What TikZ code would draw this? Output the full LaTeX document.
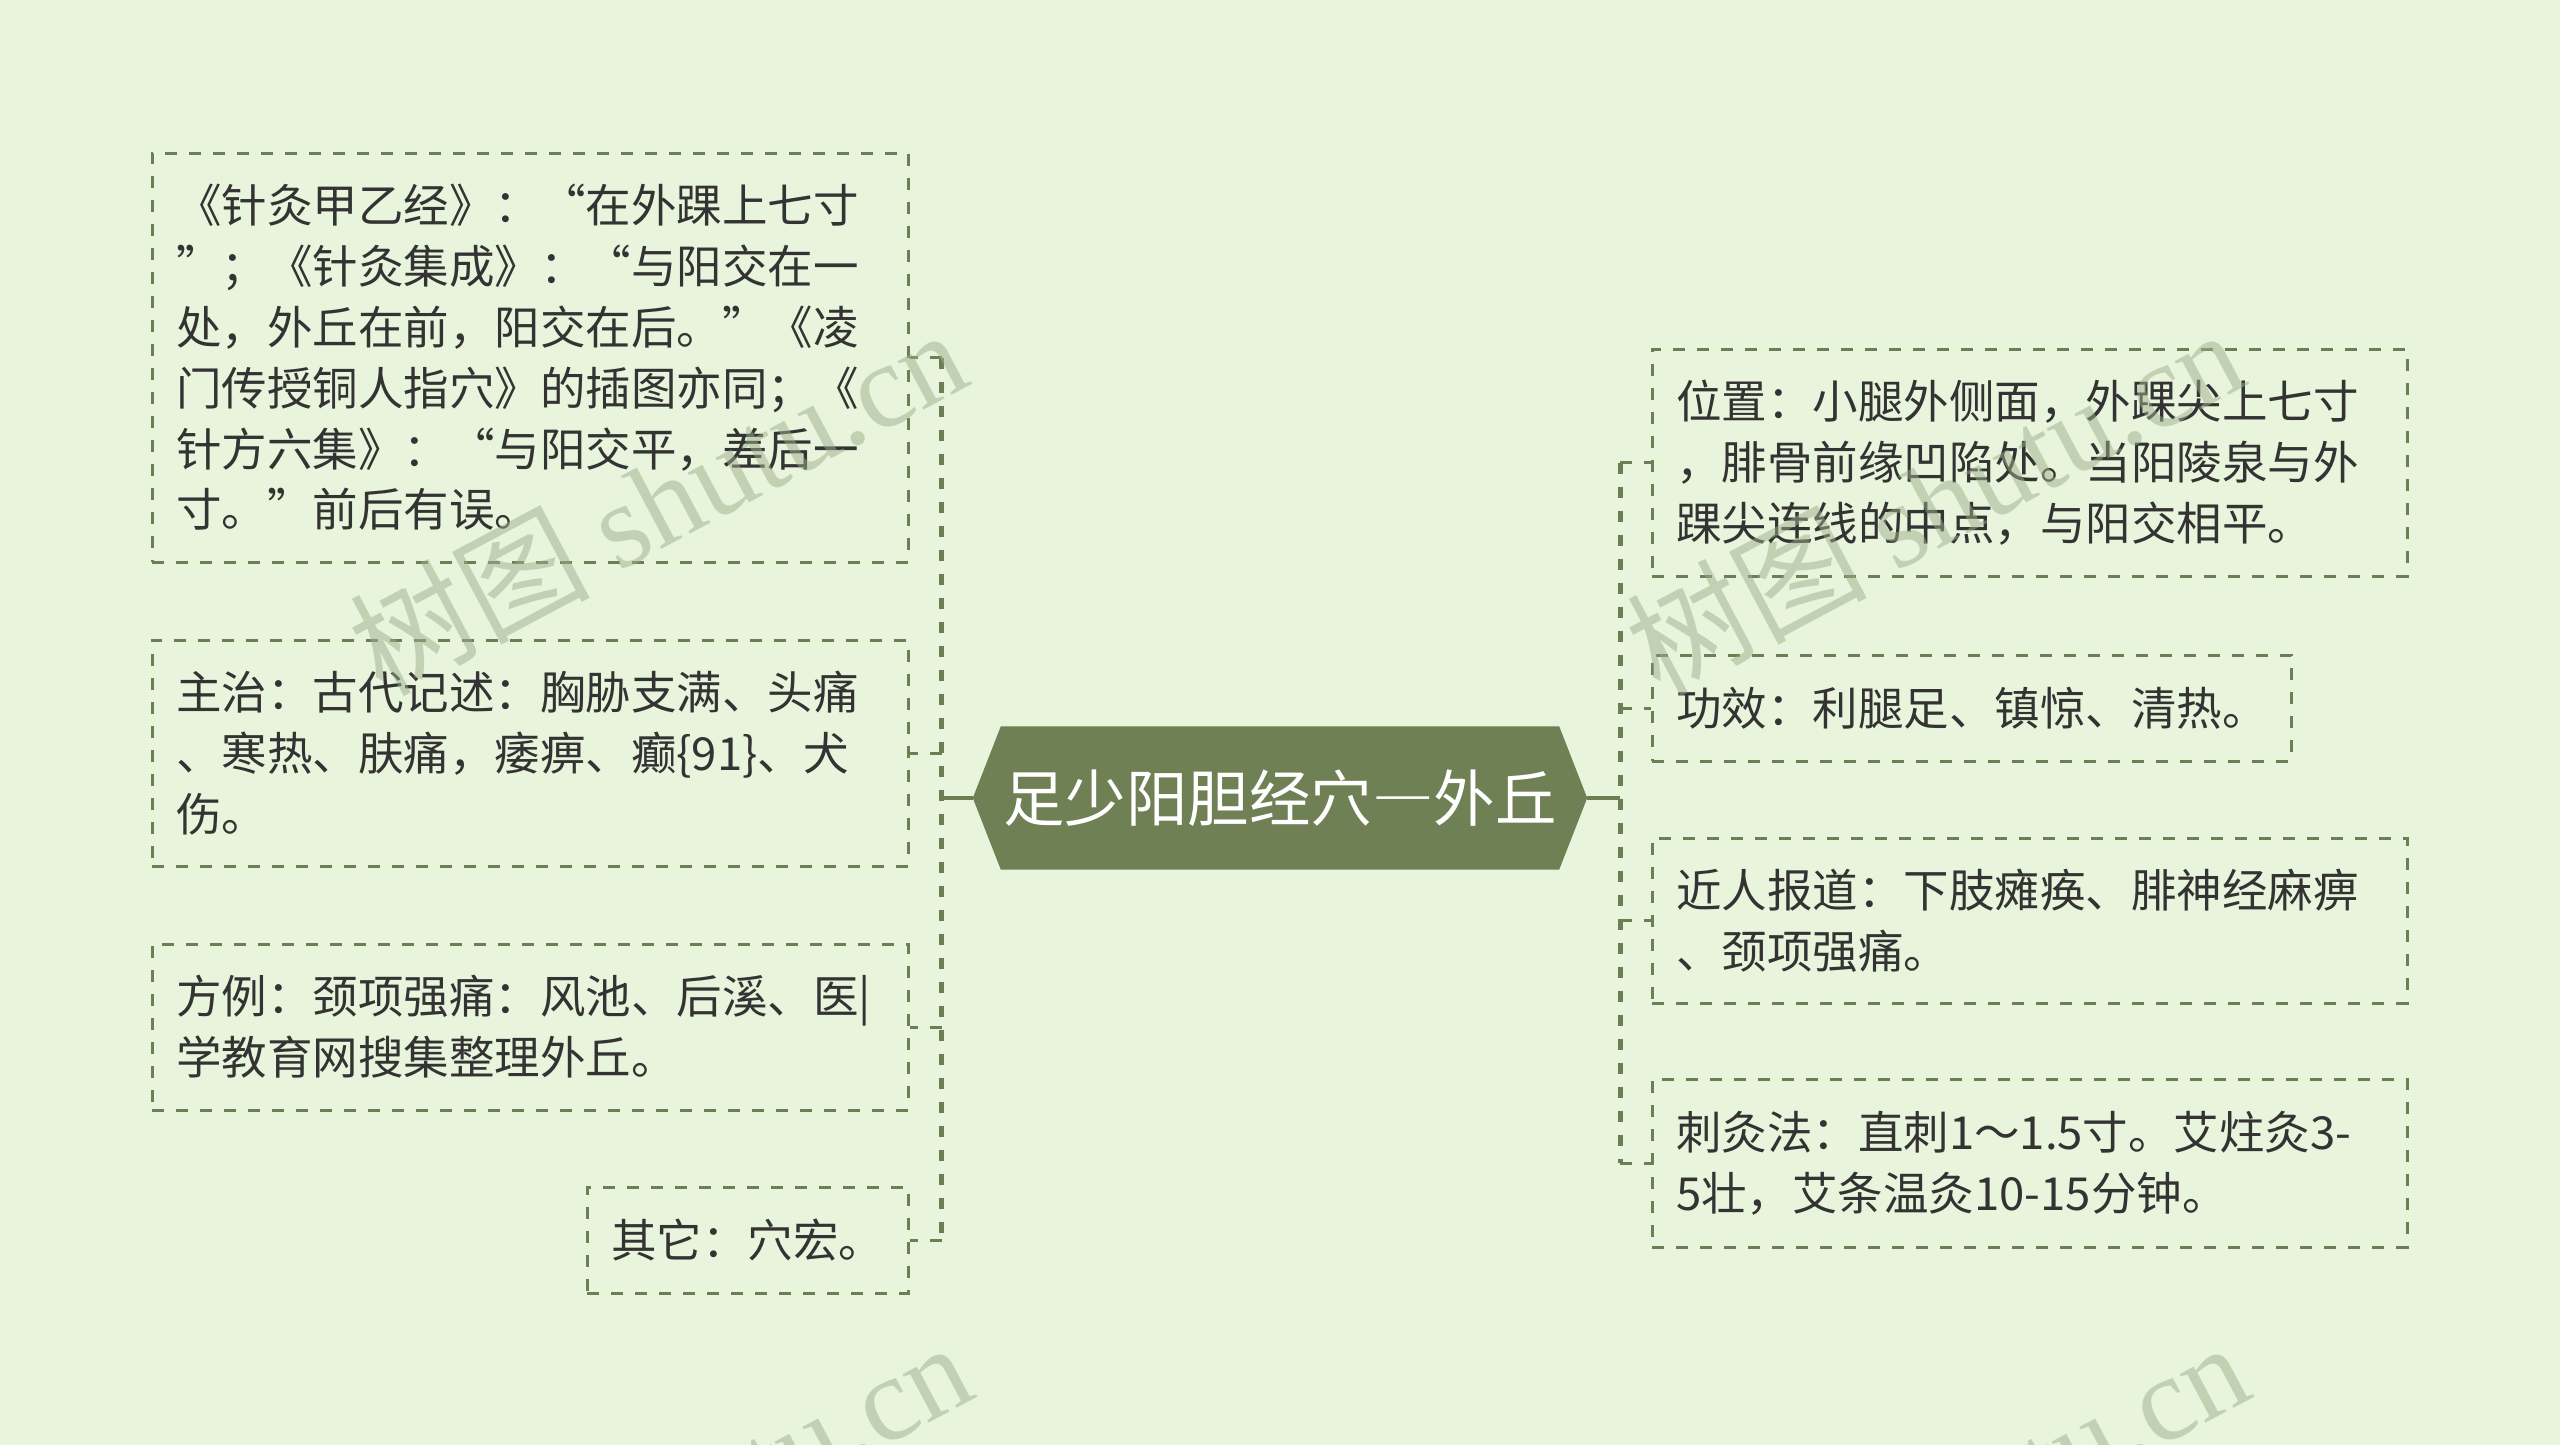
\documentclass[tikz,border=0pt]{standalone}
\usepackage{fontspec}
\setmainfont{Noto Sans CJK SC}
\newfontfamily\fwcjk[RawFeature=+fwid]{Noto Sans CJK SC}
\newfontfamily\wmserif{Liberation Serif}
\usetikzlibrary{backgrounds}
\definecolor{bgc}{HTML}{E8F5DC}
\definecolor{olive}{HTML}{6E7E54}
\definecolor{rootfill}{HTML}{6F8054}
\definecolor{txt}{HTML}{333333}
\definecolor{wmc}{HTML}{9EAE8C}
\newcommand\qL{{\fwcjk “}}
\newcommand\qR{{\fwcjk ”}}
\tikzset{
  leaf/.style={draw=olive, line width=3pt, dash pattern=on 12pt off 12pt,
    align=left, inner xsep=24pt, inner ysep=0pt, text=txt,
    font=\fontsize{45.5pt}{60.8pt}\selectfont},
  rootnode/.style={minimum width=614pt, minimum height=143pt, inner sep=0pt,
    text=white, font=\fontsize{61.5pt}{70pt}\selectfont},
  stem/.style={draw=olive, line width=4pt},
  trunk/.style={draw=olive, line width=5pt, dash pattern=on 11pt off 13pt},
  branch/.style={draw=olive, line width=3pt, dash pattern=on 12pt off 12pt},
  wmk/.style={rotate=28, text=wmc, opacity=0.5, inner sep=0pt,
    font=\fontsize{120pt}{120pt}\selectfont}
}
\begin{document}
\begin{tikzpicture}[x=1pt, y=-1pt]
\useasboundingbox (0,0) rectangle (2560,1445);

% root
\node[rootnode] (root) at (1280,798) {足少阳胆经穴{\fwcjk —}外丘};

% left leaves
\node[leaf, minimum width=756pt, minimum height=409pt, text width=708pt] (L1) at (530,357.5) {%
《针灸甲乙经》：\qL{}在外踝上七寸\\
\qR{}；《针灸集成》：\qL{}与阳交在一\\
处，外丘在前，阳交在后。\qR{}《凌\\
门传授铜人指穴》的插图亦同；《\\
针方六集》：\qL{}与阳交平，差后一\\
寸。\qR{}前后有误。};
\node[leaf, minimum width=756pt, minimum height=226pt, text width=708pt] (L2) at (530,753) {%
主治：古代记述：胸胁支满、头痛\\
、寒热、肤痛，痿痹、癫\{91\}、犬\\
伤。};
\node[leaf, minimum width=756pt, minimum height=166pt, text width=708pt] (L3) at (530,1027) {%
方例：颈项强痛：风池、后溪、医\textbar\\
学教育网搜集整理外丘。};
\node[leaf, minimum width=321pt, minimum height=106pt, text width=273pt] (L4) at (747.5,1240) {%
其它：穴宏。};

% right leaves
\node[leaf, minimum width=755pt, minimum height=227pt, text width=707pt] (R1) at (2029.5,462.5) {%
位置：小腿外侧面，外踝尖上七寸\\
，腓骨前缘凹陷处。当阳陵泉与外\\
踝尖连线的中点，与阳交相平。};
\node[leaf, minimum width=639pt, minimum height=106pt, text width=591pt] (R2) at (1971.5,708) {%
功效：利腿足、镇惊、清热。};
\node[leaf, minimum width=755pt, minimum height=165pt, text width=707pt] (R3) at (2029.5,920.5) {%
近人报道：下肢瘫痪、腓神经麻痹\\
、颈项强痛。};
\node[leaf, minimum width=755pt, minimum height=168pt, text width=707pt] (R4) at (2029.5,1163) {%
刺灸法：直刺1～1.5寸。艾炷灸3-\\
5壮，艾条温灸10-15分钟。};

% connectors left
\draw[stem] (root.west) -- ++(-31,0) coordinate (lj);
\draw[trunk] (lj |- L1.east) -- (lj |- L4.east);
\foreach \n in {L1,L2,L3,L4} \draw[branch] (lj |- \n.east) -- (\n.east);
% connectors right
\draw[stem] (root.east) -- ++(33,0) coordinate (rj);
\draw[trunk] (rj |- R1.west) -- (rj |- R4.west);
\foreach \n in {R1,R2,R3,R4} \draw[branch] (rj |- \n.west) -- (\n.west);

% background and hexagon
\begin{scope}[on background layer]
\fill[bgc] (0,0) rectangle (2560,1445);
\fill[rootfill] (root.west) -- ([xshift=28pt]root.north west) -- ([xshift=-28pt]root.north east)
  -- (root.east) -- ([xshift=-28pt]root.south east) -- ([xshift=28pt]root.south west) -- cycle;
\end{scope}

% watermarks
\begin{scope}
\clip (0,0) rectangle (2560,1445);
\node[wmk] (wm1) at (657,500) {树图 {\wmserif shutu.cn}};
\node[wmk] (wm2) at (1934,500) {树图 {\wmserif shutu.cn}};
\node[wmk] (wm3) at (662,1513) {树图 {\wmserif shutu.cn}};
\node[wmk] (wm4) at (1939,1513) {树图 {\wmserif shutu.cn}};
\end{scope}
\end{tikzpicture}
\end{document}
